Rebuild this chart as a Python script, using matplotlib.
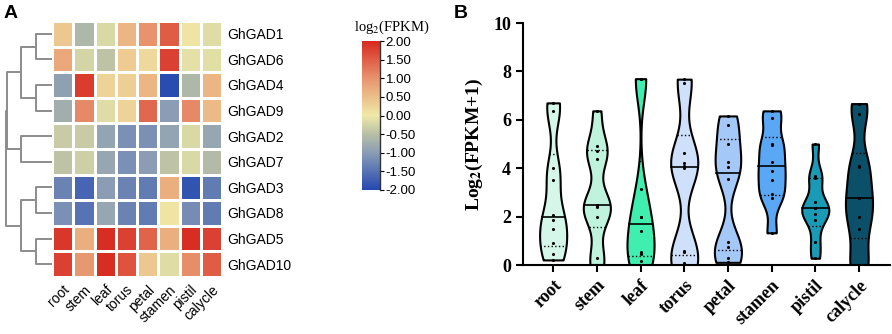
import numpy as np
import matplotlib
matplotlib.use('Agg')
import matplotlib.pyplot as plt
from matplotlib.colors import LinearSegmentedColormap
from matplotlib import cbook, mlab

plt.rcParams['mathtext.fontset'] = 'stix'

# ---- panel A data ----
genes = ['GhGAD1', 'GhGAD6', 'GhGAD4', 'GhGAD9', 'GhGAD2',
         'GhGAD7', 'GhGAD3', 'GhGAD8', 'GhGAD5', 'GhGAD10']
tissues_a = ['root', 'stem', 'leaf', 'torus', 'petal', 'stamen', 'pistil', 'calycle']
heat = np.array([
    [0.40, -0.60, -0.20, 0.60, 1.00, 1.50, 0.05, -0.15],
    [0.75, -0.25, -0.45, 0.35, 0.20, 1.75, -0.10, -0.12],
    [-0.95, 1.80, 0.25, 0.30, 0.60, -1.95, -0.60, 0.60],
    [-0.75, 1.10, -0.15, 0.25, 1.40, -1.00, 1.10, 0.55],
    [-0.35, -0.35, -0.90, -1.15, -1.15, -0.90, -0.20, -0.85],
    [-0.45, -0.30, -0.85, -1.15, -1.00, -0.45, -0.20, -0.55],
    [-1.30, -1.65, -1.00, -1.30, -1.40, 0.70, -1.85, -1.40],
    [-1.15, -1.50, -0.85, -1.30, -1.40, 0.05, -1.20, -1.40],
    [1.85, 0.70, 1.95, 1.75, 1.45, 0.70, 1.95, 1.75],
    [1.75, 0.95, 1.95, 1.60, 0.40, -0.15, 1.05, 1.50],
])
# dendrogram merges (left, right, height); leaves 0..9 in display order
merges = [(0, 1, 1.0), (2, 3, 1.0), (4, 5, 1.94), (6, 7, 1.0), (8, 9, 1.0),
          (10, 11, 1.94), (13, 14, 1.94), (15, 12, 2.85), (17, 16, 2.88)]
cbar_ticks = [2, 1.5, 1, 0.5, 0, -0.5, -1, -1.5, -2]

# ---- panel B data (log2(FPKM+1) of the 10 genes per tissue) ----
tissues_b = ['root', 'stem', 'leaf', 'torus', 'petal', 'stamen', 'pistil', 'calycle']
root = [6.70, 6.35, 3.99, 3.51, 2.06, 1.88, 1.47, 0.89, 0.45, 0.21]
stem = [6.37, 4.91, 4.72, 4.40, 2.50, 2.45, 2.41, 1.97, 0.30, 0.02]
leaf = [7.70, 7.68, 3.16, 1.99, 1.97, 1.40, 0.52, 0.45, 0.18, 0.00]
torus = [7.68, 7.50, 4.64, 4.20, 4.10, 3.99, 0.59, 0.52, 0.07, 0.00]
petal = [6.16, 5.80, 5.02, 4.26, 4.06, 3.55, 0.96, 0.74, 0.30, 0.11]
stamen = [6.37, 6.08, 5.02, 4.94, 4.26, 3.89, 3.51, 2.92, 2.75, 1.33]
pistil = [5.00, 3.69, 3.58, 2.62, 2.34, 2.34, 2.09, 1.86, 0.94, 0.28]
calycle = [6.67, 6.23, 4.09, 4.06, 2.78, 2.75, 1.99, 1.47, 0.02, 0.00]
violin_colors = ['#d4f7ea', '#bff3de', '#40efb0', '#cfe0fa',
                 '#a4c8f7', '#5aa8f5', '#1a9ab5', '#0b4f68']

W, H = 892, 334
fig = plt.figure(figsize=(W / 100, H / 100), dpi=100)

def px(x0, y0, x1, y1):
    return [x0 / W, 1 - y1 / H, (x1 - x0) / W, (y1 - y0) / H]

cmap = LinearSegmentedColormap.from_list('gad', [
    (0.0, '#2448b0'), (0.25, '#8a9db5'), (0.375, '#b8bfa6'),
    (0.5, '#efe9a6'), (0.75, '#e8946e'), (1.0, '#d7281f')])

# heatmap
axh = fig.add_axes(px(52, 21, 222, 277))
mesh = axh.pcolormesh(heat, cmap=cmap, vmin=-2, vmax=2, edgecolor='white', linewidth=1)
axh.set_ylim(len(genes), 0)
axh.set_xlim(0, len(tissues_a))
for s in axh.spines.values():
    s.set_visible(False)
axh.yaxis.tick_right()
axh.set_yticks(np.arange(len(genes)) + 0.5)
axh.set_yticklabels(genes, family='Liberation Sans', fontsize=10)
axh.set_xticks(np.arange(len(tissues_a)) + 0.5)
axh.set_xticklabels(tissues_a, family='Liberation Sans', fontsize=10,
                    rotation=45, ha='right', rotation_mode='anchor')
axh.tick_params(length=0, pad=4)

# dendrogram
axd = fig.add_axes(px(3, 21, 52, 277))
pos = {i: i + 0.5 for i in range(len(genes))}
hgt = {i: 0.0 for i in range(len(genes))}
for k, (a, b, h) in enumerate(merges):
    n = len(genes) + k
    axd.plot([hgt[a], h, h, hgt[b]], [pos[a], pos[a], pos[b], pos[b]],
             color='#8c8c8c', lw=1.4, solid_capstyle='butt')
    pos[n] = (pos[a] + pos[b]) / 2
    hgt[n] = h
axd.set_xlim(3.07, 0)
axd.set_ylim(len(genes), 0)
axd.axis('off')

# colorbar
cax = fig.add_axes(px(362, 41, 380, 190))
cb = fig.colorbar(mesh, cax=cax, ticks=cbar_ticks)
cb.outline.set_visible(False)
cax.plot([1, 1], [0, 1], transform=cax.transAxes, color='#333333', lw=1, clip_on=False)
cax.set_yticklabels(['%.2f' % t for t in cbar_ticks], family='Liberation Sans', fontsize=9.5)
cax.tick_params(length=3, width=0.8, pad=1)
fig.text(392 / W, 1 - 27 / H, 'log$_2$(FPKM)', family='Liberation Serif', fontsize=10.5,
         ha='center', va='center')

fig.text(4 / W, 1 - 13 / H, 'A', family='Liberation Sans', fontsize=14, weight='bold', va='center')
fig.text(454 / W, 1 - 13 / H, 'B', family='Liberation Sans', fontsize=14, weight='bold', va='center')

# violins
data = [root, stem, leaf, torus, petal, stamen, pistil, calycle]
axv = fig.add_axes(px(523, 23, 890, 265))
xs = np.arange(len(tissues_b))
vw = 0.62

def kde(X, coords):
    return mlab.GaussianKDE(X, 0.33).evaluate(coords)

stats = cbook.violin_stats([np.array(d) for d in data], kde, points=200)
parts = axv.violin(stats, positions=xs, widths=vw, showmeans=False,
                   showextrema=False, showmedians=False)
for body, c in zip(parts['bodies'], violin_colors):
    body.set_facecolor(c)
    body.set_edgecolor('black')
    body.set_linewidth(1.5)
    body.set_alpha(1)

for x, d, st in zip(xs, data, stats):
    coords = st['coords']
    vals = 0.5 * vw * st['vals'] / st['vals'].max()
    q1, med, q3 = np.percentile(d, [25, 50, 75], method='weibull')
    for q, ls, lw in [(q1, ':', 1.0), (med, '-', 1.2), (q3, ':', 1.0)]:
        hw = np.interp(q, coords, vals)
        axv.plot([x - hw, x + hw], [q, q], color='black', ls=ls, lw=lw, zorder=3)
    axv.scatter(np.full(len(d), x), d, s=5, color='black', zorder=4, linewidths=0)

axv.set_xlim(-0.69, 7.71)
axv.set_ylim(0, 10)
axv.set_yticks([0, 2, 4, 6, 8, 10])
axv.set_xticks(xs)
axv.spines['top'].set_visible(False)
axv.spines['right'].set_visible(False)
axv.spines['left'].set_linewidth(1.5)
axv.spines['bottom'].set_linewidth(1.5)
axv.spines['bottom'].set_zorder(5)
axv.tick_params(length=5, width=1.5, direction='out')
axv.set_yticklabels([str(t) for t in [0, 2, 4, 6, 8, 10]], family='Liberation Serif',
                    weight='bold', fontsize=13)
axv.set_xticklabels(tissues_b, family='Liberation Serif', weight='bold', fontsize=13,
                    rotation=45, ha='right', rotation_mode='anchor')
axv.set_ylabel('Log$_\\mathbf{2}$(FPKM+1)', family='Liberation Serif', weight='bold',
               fontsize=14, labelpad=6)

fig.savefig('out.png', dpi=100)
